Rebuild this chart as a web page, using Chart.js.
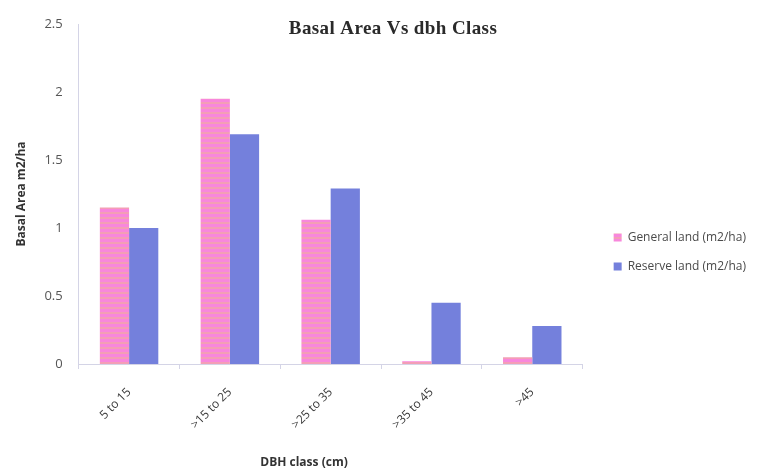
<!DOCTYPE html>
<html>
<head>
<meta charset="utf-8">
<script src="https://cdn.jsdelivr.net/npm/chart.js@4/dist/chart.umd.min.js"></script>
<style>
  html, body { margin: 0; padding: 0; background: #ffffff; }
  #wrap { width: 779px; height: 473px; position: relative; }
</style>
</head>
<body>
<div id="wrap"><canvas id="c"></canvas></div>
<script>
// DBH classes and basal area per hectare
const categories = ['5 to 15', '>15 to 25', '>25 to 35', '>35 to 45', '>45'];
const generalLand = [1.15, 1.95, 1.06, 0.02, 0.05];
const reserveLand = [1.00, 1.69, 1.29, 0.45, 0.28];
const yTicks = [0, 0.5, 1, 1.5, 2, 2.5];

// Pink fill with faint horizontal stripes
function stripePattern() {
  const p = document.createElement('canvas');
  p.width = 8; p.height = 5;
  const g = p.getContext('2d');
  g.fillStyle = '#f887dc';
  g.fillRect(0, 0, 8, 5);
  g.fillStyle = '#f39eb6';
  g.fillRect(0, 2, 8, 2);
  return g.createPattern(p, 'repeat');
}
const pink = stripePattern();
const blue = '#7480dc';

// Chart heading over the plot area and the category-axis caption below the labels
const captionsPlugin = {
  id: 'captions',
  afterDraw(chart) {
    const ctx = chart.ctx;
    ctx.save();
    ctx.textAlign = 'center';
    ctx.textBaseline = 'middle';
    ctx.font = 'bold 19px "Liberation Serif", serif';
    if ('letterSpacing' in ctx) ctx.letterSpacing = '0.4px';
    ctx.fillStyle = '#2a2a2a';
    ctx.fillText('Basal Area Vs dbh Class', 393, 29);
    if ('letterSpacing' in ctx) ctx.letterSpacing = '0px';
    ctx.font = 'bold 12px "Open Sans", sans-serif';
    ctx.fillStyle = '#333333';
    ctx.fillText('DBH class (cm)', 304, 463);
    ctx.restore();
  }
};

// Nudge the legend a little right and down from its default slot
const legendShift = {
  id: 'legendShift',
  afterLayout(chart) {
    const lg = chart.legend;
    if (!lg) return;
    lg.left += 14; lg.right += 14;
    lg.top += 16; lg.bottom += 16;
  }
};

new Chart(document.getElementById('c'), {
  type: 'bar',
  data: {
    labels: categories,
    datasets: [
      { label: 'General land (m2/ha)', data: generalLand, backgroundColor: pink, borderWidth: 0 },
      { label: 'Reserve land (m2/ha)', data: reserveLand, backgroundColor: blue, borderWidth: 0 }
    ]
  },
  options: {
    responsive: true,
    maintainAspectRatio: false,
    animation: false,
    layout: { padding: { top: 24, right: 37, left: 14, bottom: 25 } },
    datasets: { bar: { categoryPercentage: 0.58, barPercentage: 1.0 } },
    plugins: {
      title: { display: false },
      tooltip: { enabled: false },
      legend: {
        position: 'right',
        labels: {
          boxWidth: 8, boxHeight: 8, padding: 17,
          color: '#4a4a4a',
          font: { family: '"Open Sans", sans-serif', size: 12 }
        }
      }
    },
    scales: {
      x: {
        grid: { display: true, drawOnChartArea: false, color: '#d4d4e6', tickLength: 5 },
        border: { color: '#d4d4e6' },
        ticks: {
          color: '#3a3a3a', maxRotation: 45, minRotation: 45, padding: 16,
          font: { family: '"Open Sans", sans-serif', size: 12 }
        }
      },
      y: {
        min: 0, max: 2.5,
        afterBuildTicks(axis) { axis.ticks = yTicks.map(v => ({ value: v })); },
        grid: { display: false },
        border: { color: '#d4d4e6' },
        ticks: {
          color: '#555555', padding: 8,
          callback: (v) => String(v),
          font: { family: '"Open Sans", sans-serif', size: 13 }
        },
        title: {
          display: true, text: 'Basal Area m2/ha', color: '#333333', padding: { top: 0, bottom: 8 },
          font: { family: '"Open Sans", sans-serif', size: 12, weight: 'bold' }
        }
      }
    }
  },
  plugins: [captionsPlugin, legendShift]
});
</script>
</body>
</html>
